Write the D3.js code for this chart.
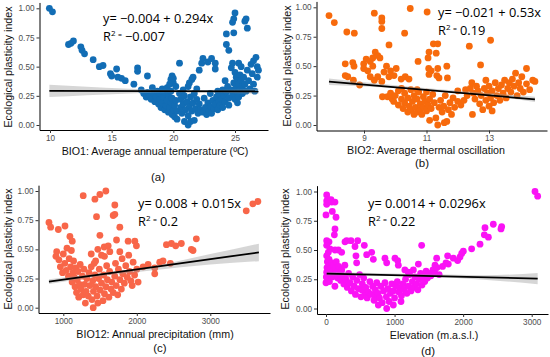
<!DOCTYPE html>
<html>
<head>
<meta charset="utf-8">
<script src="https://cdn.jsdelivr.net/npm/d3@7"></script>
<style>
  body { margin: 0; background: #fff; }
  svg { display: block; }
  .tick text { font-family: "Liberation Sans", Arial, sans-serif; font-size: 8.2px; fill: #4d4d4d; }
  .tick line { stroke: #333; }
  .domain { stroke: #000; }
  .axisTitle { font-family: "Liberation Sans", Arial, sans-serif; font-size: 10.7px; fill: #111; }
  .eq { font-family: "Open Sans", sans-serif; font-size: 12.8px; fill: #000; }
  .panelLabel { font-family: "Liberation Sans", Arial, sans-serif; font-size: 11.5px; fill: #111; }
</style>
</head>
<body>
<div id="chart"></div>
<script>
var svgWidth = 550;
var svgHeight = 357;

// ---- data ----
// (a) BIO1 average annual temperature vs plasticity index
var bio1Points = [
  [9.95,1.00],[10.2,0.97],[11.5,0.69],[11.7,0.70],[11.9,0.72],[12.5,0.67],[12.6,0.64],[12.8,0.61],[13.5,0.56],
  [14.0,0.50],[14.3,0.51],[14.9,0.44],[15.0,0.42],[15.4,0.48],[15.5,0.41],[15.8,0.40],[16.1,0.38],[16.8,0.35],
  [17.1,0.49],[17.1,0.46],[17.4,0.30],[17.9,0.42],[18.3,0.32],
  [17.6,0.27],[17.8,0.24],[17.9,0.28],[18.1,0.25],[18.2,0.22],[18.4,0.27],[18.5,0.20],[18.6,0.24],[18.7,0.29],
  [18.8,0.18],[18.9,0.22],[18.9,0.27],[19.0,0.15],[19.1,0.19],[19.1,0.31],[19.2,0.24],[19.3,0.13],[19.3,0.28],
  [19.4,0.17],[19.5,0.21],[19.5,0.32],[19.6,0.11],[19.6,0.26],[19.7,0.15],[19.8,0.19],[19.8,0.29],[19.9,0.09],
  [19.9,0.23],[20.0,0.13],[20.0,0.36],[20.1,0.17],[20.1,0.07],[20.2,0.21],[20.3,0.05],[20.3,0.12],[19.8,0.39],
  [19.9,0.42],[20.0,0.40],[19.7,0.35],[20.2,0.33],[20.5,0.53],[20.5,0.27],
  [20.6,0.22],[20.6,0.15],[20.7,0.10],[20.8,0.18],[20.8,0.30],[20.9,0.03],[20.9,0.25],[21.0,0.13],[21.1,0.20],
  [21.2,0.00],[21.2,0.33],[21.2,0.08],[21.3,0.16],[21.3,0.36],[21.4,0.24],[21.4,0.03],[21.5,0.12],[21.5,0.39],
  [21.6,0.41],[21.6,0.19],[21.7,0.04],[21.7,0.27],[21.8,0.14],[21.9,0.22],[21.9,0.31],[22.0,0.10],[22.1,0.47],
  [22.1,0.18],[22.2,0.13],[22.3,0.53],[22.4,0.57],[22.4,0.11],[22.5,0.23],
  [22.6,0.15],[22.7,0.09],[22.8,0.54],[22.8,0.19],[22.9,0.12],[23.0,0.27],[23.0,0.16],[23.1,0.57],[23.1,0.10],
  [23.2,0.21],[23.3,0.14],[23.4,0.53],[23.4,0.48],[23.4,0.18],[23.5,0.24],[23.6,0.13],[23.6,0.29],[23.7,0.20],
  [23.8,0.17],[23.8,0.26],[23.9,0.22],[24.0,0.30],[24.0,0.15],[24.1,0.25],[24.2,0.38],[24.2,0.20],[24.3,0.78],
  [24.3,0.69],[24.3,0.28],[24.4,0.33],[24.5,0.64],[24.5,0.23],[24.5,0.17],
  [24.7,0.49],[24.7,0.30],[24.8,0.88],[24.8,0.53],[24.8,0.26],[24.9,0.91],[24.9,0.79],[24.9,0.36],[25.0,0.96],
  [25.0,0.45],[25.0,0.22],[25.1,0.41],[25.1,0.32],[25.2,0.38],[25.2,0.27],[25.2,0.19],[25.3,0.53],[25.3,0.35],
  [25.3,0.24],[25.4,0.43],[25.4,0.30],[25.5,0.50],[25.5,0.38],[25.6,0.33],[25.6,0.27],[25.7,0.41],[25.8,0.89],
  [25.8,0.35],[25.9,0.91],[25.9,0.29],[26.0,0.83],[26.0,0.47],[26.1,0.38],[26.2,0.31],[26.3,0.52],[26.4,0.44],
  [26.5,0.55],[26.6,0.29],[26.7,0.58],[26.8,0.50],[26.8,0.41],[26.9,0.47],[26.5,0.35]
];
// fitted line ends and confidence band (x, lower, upper)
var bio1Fit = [[9.95,0.292],[26.9,0.288]];
var bio1Band = [[9.95,0.240,0.345],[13,0.256,0.328],[16,0.268,0.313],[19,0.278,0.303],[21.5,0.279,0.299],[24,0.276,0.302],[26.9,0.268,0.310]];

// (b) BIO2 average thermal oscillation
var bio2Points = [
  [7.88,0.93],[8.05,0.87],[8.45,0.79],[8.69,0.78],[9.33,0.95],[9.57,0.91],[9.57,0.88],[9.57,0.82],[10.48,0.99],
  [11.02,0.96],[10.30,0.78],[9.80,0.68],[11.22,0.69],[11.36,0.69],[11.31,0.61],[11.08,0.62],[11.05,0.57],
  [12.37,0.67],[13.05,0.72],
  [8.40,0.52],[8.64,0.53],[8.68,0.50],[8.40,0.42],[8.48,0.41],[8.66,0.38],[8.86,0.34],[8.99,0.52],[9.07,0.56],
  [9.20,0.54],[9.28,0.57],[9.36,0.62],[9.44,0.59],[9.51,0.57],[8.99,0.48],[9.12,0.46],[9.28,0.50],[9.20,0.41],
  [9.33,0.38],[9.44,0.41],[9.57,0.37],[9.64,0.45],[9.72,0.50],[9.85,0.46],[10.03,0.48],[9.80,0.41],[9.96,0.42],
  [9.59,0.24],[9.75,0.24],[9.90,0.22],[10.19,0.39],[10.32,0.41],[10.44,0.39],[10.73,0.54],[11.07,0.48],
  [11.15,0.46],[11.08,0.43],[11.36,0.48],[11.33,0.42],[11.40,0.40],[11.65,0.50],[11.67,0.40],
  [9.85,0.27],[9.95,0.20],[10.0,0.25],[10.1,0.17],[10.1,0.29],[10.2,0.22],[10.25,0.14],[10.3,0.19],[10.3,0.27],
  [10.4,0.11],[10.4,0.23],[10.45,0.16],[10.5,0.30],[10.5,0.13],[10.55,0.20],[10.6,0.09],[10.6,0.25],[10.65,0.15],
  [10.7,0.11],[10.7,0.22],[10.75,0.28],[10.8,0.13],[10.8,0.18],[10.85,0.09],[10.9,0.24],[10.9,0.15],[10.95,0.20],
  [11.0,0.12],[11.0,0.28],[11.05,0.17],[11.1,0.22],[11.1,0.04],[11.15,0.14],[11.2,0.26],[11.25,0.19],[11.3,0.06],
  [11.36,0.00],[11.4,0.15],[11.45,0.21],[11.5,0.11],[11.55,0.16],[11.57,0.02],[11.65,0.03],[11.6,0.25],[11.7,0.13],
  [11.75,0.19],[11.8,0.09],[11.85,0.23],[11.9,0.15],[12.0,0.20],[12.0,0.29],[12.1,0.17],[12.2,0.21],[12.25,0.30],
  [12.3,0.25],[12.47,0.09],[10.7,0.30],[10.2,0.31],
  [12.4,0.31],[12.45,0.36],[12.5,0.27],[12.55,0.22],[12.6,0.33],[12.65,0.29],[12.7,0.18],[12.73,0.51],[12.75,0.25],
  [12.8,0.13],[12.85,0.31],[12.9,0.21],[12.95,0.27],[13.0,0.16],[13.0,0.33],[13.05,0.23],[13.1,0.29],[13.15,0.19],
  [13.2,0.36],[13.25,0.25],[13.3,0.31],[13.35,0.21],[13.4,0.34],[13.45,0.27],[13.5,0.38],[13.55,0.23],[13.6,0.31],
  [13.65,0.36],[13.7,0.28],[13.75,0.39],[13.8,0.33],[13.85,0.44],[13.9,0.25],[13.95,0.36],[14.0,0.31],[14.05,0.41],
  [14.1,0.28],[14.2,0.48],[14.2,0.35],[14.3,0.30],[14.4,0.38],[14.47,0.37],[12.9,0.38],[13.1,0.12]
];
var bio2Fit = [[7.88,0.368],[14.47,0.218]];
var bio2Band = [[7.88,0.340,0.396],[9.5,0.320,0.350],[11.5,0.283,0.301],[13,0.250,0.272],[14.47,0.196,0.240]];

// (c) BIO12 annual precipitation (mm)
var bio12Points = [
  [805,0.73],[828,0.69],[932,0.67],[1023,0.70],[1090,0.61],[1122,0.57],[1271,0.96],[1430,0.93],[1498,0.97],
  [1579,1.00],[1452,0.78],[1679,0.79],[1701,0.80],[1701,0.88],[1769,0.69],[1498,0.62],[1557,0.52],[1611,0.53],
  [1633,0.48],[1724,0.58],[1769,0.48],[1882,0.57],[1973,0.57],[1995,0.53],[3489,0.83],[3579,0.89],[3647,0.91],
  [2403,0.54],[2471,0.55],[2529,0.53],[2606,0.55],[2810,0.59],[2742,0.50],[2765,0.49],[2244,0.34],[2244,0.29],
  [2312,0.39],[2357,0.40],[2457,0.38],[2086,0.35],[2154,0.37],[2018,0.22],[1937,0.19],
  [900,0.44],[910,0.48],[940,0.41],[960,0.35],[990,0.30],[1000,0.46],[1020,0.38],[1040,0.32],[1050,0.51],
  [1070,0.27],[1080,0.42],[1100,0.35],[1110,0.49],[1120,0.22],[1130,0.30],[1140,0.40],[1150,0.26],[1160,0.18],
  [1170,0.34],[1180,0.13],[1190,0.24],[1200,0.31],[1210,0.09],[1220,0.20],[1230,0.37],[1240,0.16],[1260,0.27],
  [1270,0.11],[1280,0.33],[1290,0.20],[1300,0.04],[1310,0.14],[1320,0.25],[1340,0.10],[1350,0.30],[1360,0.19],
  [1380,0.35],[1390,0.07],[1400,0.23],[1407,0.00],[1410,0.14],[1420,0.38],[1430,0.28],[1440,0.18],[1460,0.10],
  [1470,0.04],[1480,0.25],[1490,0.33],[1500,0.15],[1520,0.21],[1540,0.06],[1550,0.28],[1560,0.12],[1580,0.18],
  [1590,0.36],[1600,0.24],[1620,0.09],[1630,0.31],[1650,0.16],[1660,0.22],[1680,0.13],[1700,0.27],[1710,0.38],
  [1720,0.19],[1740,0.11],[1750,0.33],[1770,0.24],[1790,0.16],[1800,0.42],[1810,0.29],[1830,0.21],[1850,0.36],
  [1870,0.26],[1890,0.45],[1900,0.31],[1920,0.23],[1950,0.39],[1970,0.28],[2000,0.33],[1440,0.40],[1470,0.50],
  [1520,0.45],[1560,0.44],[1380,0.46]
];
var bio12Fit = [[805,0.223],[3661,0.474]];
var bio12Band = [[805,0.203,0.243],[1450,0.265,0.291],[2200,0.318,0.352],[3000,0.370,0.460],[3661,0.399,0.549]];

// (d) Elevation (m.a.s.l.)
var elevPoints = [
  [10,0.97],[10,0.92],[10,0.89],[34,0.93],[73,0.93],[83,0.91],[131,0.91],[92,0.83],[146,0.78],[0,0.80],
  [131,0.68],[122,0.63],[10,0.58],[44,0.57],[10,0.54],[58,0.51],[34,0.48],[10,0.45],[277,0.57],[301,0.58],
  [365,0.58],[423,0.53],[462,0.58],[131,0.50],[180,0.50],[228,0.48],[559,0.54],[593,0.46],[666,0.48],[690,0.42],
  [437,0.45],[447,0.39],[860,0.43],[885,0.39],[1006,0.43],[1045,0.41],[1395,0.54],[1274,0.33],[1347,0.38],
  [1614,0.43],[1590,0.37],[1774,0.45],[1784,0.38],[1857,0.43],[1920,0.41],[1954,0.44],[1979,0.47],[2003,0.49],
  [2124,0.51],[2246,0.55],[2309,0.63],[2319,0.69],[2368,0.61],[2440,0.72],[2562,0.70],[2552,0.68],[3048,1.00],
  [3087,0.96],[763,0.03],[885,0.00],[982,0.03],[1094,0.06],[715,0.11],[569,0.13],[520,0.16],
  [0,0.22],[5,0.27],[10,0.31],[15,0.35],[20,0.40],[25,0.25],[30,0.29],[35,0.33],[40,0.38],[45,0.42],[50,0.23],
  [55,0.36],[60,0.30],[70,0.34],[80,0.39],[90,0.27],[100,0.32],[110,0.37],[120,0.29],[130,0.19],[140,0.34],
  [150,0.40],[160,0.31],[170,0.26],[185,0.36],[200,0.30],[215,0.24],[230,0.33],[245,0.28],[260,0.21],[275,0.37],
  [290,0.25],[310,0.18],[330,0.30],[350,0.22],[370,0.15],[390,0.27],[410,0.19],[430,0.12],[450,0.24],[470,0.17],
  [490,0.29],[510,0.10],[530,0.21],[550,0.26],[580,0.18],[600,0.09],[620,0.14],[640,0.23],[660,0.12],[680,0.19],
  [700,0.07],[720,0.16],[740,0.22],[760,0.13],[780,0.09],[800,0.19],[820,0.05],[840,0.15],[860,0.22],[880,0.10],
  [900,0.17],[920,0.06],[940,0.13],[960,0.21],[980,0.15],[1000,0.09],[1020,0.19],[1040,0.23],[1060,0.14],
  [1080,0.18],[1100,0.11],[1120,0.21],[1140,0.16],[1160,0.25],[1180,0.13],[1200,0.19],[1220,0.29],[1240,0.15],
  [1260,0.23],[1280,0.18],[1300,0.27],[1320,0.21],[1340,0.16],[1360,0.25],[1380,0.30],[1400,0.20],[1420,0.27],
  [1440,0.23],[1460,0.32],[1480,0.26],[1500,0.30],[1530,0.28],[1560,0.33],[1590,0.30],[1620,0.35],[1650,0.29],
  [1700,0.36],[1750,0.39],[1055,0.37],[1150,0.33],[1200,0.31]
];
var elevFit = [[10,0.298],[3087,0.256]];
var elevBand = [[10,0.281,0.315],[700,0.283,0.303],[1500,0.272,0.292],[2300,0.246,0.284],[3087,0.208,0.304]];

var yTicks = [0, 0.25, 0.5, 0.75, 1];

// panel layout: pixel box plus two reference ticks to pin the x and y scales
var panels = [
  { points: bio1Points, fit: bio1Fit, band: bio1Band, color: "#126db5",
    left: 39.5, right: 268, bottom: 130, xRef: [[10, 50], [25, 235]], yRef: [[0, 125], [1, 8.3]],
    xTicks: [10, 15, 20, 25], xFmt: d3.format("d"),
    xTitle: "BIO1: Average annual temperature (\u00baC)", xTitleX: 155, xTitleY: 155,
    yTitleX: 12, yTitleY: 67, label: "(a)", labelX: 158, labelY: 181,
    eq: ["y= \u22120.004 + 0.294x", "\u22120.007"], eqX: 103, eqY: 23 },
  { points: bio2Points, fit: bio2Fit, band: bio2Band, color: "#f76a0c",
    left: 316.5, right: 547, bottom: 130.5, xRef: [[9, 364], [13, 489]], yRef: [[0, 125], [1, 7.3]],
    xTicks: [9, 11, 13], xFmt: d3.format("d"),
    xTitle: "BIO2: Average thermal oscillation", xTitleX: 426, xTitleY: 153.5,
    yTitleX: 291, yTitleY: 66, label: "(b)", labelX: 422, labelY: 167,
    eq: ["y= \u22120.021 + 0.53x", "0.19"], eqX: 438, eqY: 17 },
  { points: bio12Points, fit: bio12Fit, band: bio12Band, color: "#f86649",
    left: 38.5, right: 270, bottom: 313, xRef: [[1000, 63.3], [3000, 210.3]], yRef: [[0, 307.7], [1, 191]],
    xTicks: [1000, 2000, 3000], xFmt: d3.format("d"),
    xTitle: "BIO12: Annual precipitation (mm)", xTitleX: 155, xTitleY: 338,
    yTitleX: 12, yTitleY: 249, label: "(c)", labelX: 160, labelY: 352,
    eq: ["y= 0.008 + 0.015x", "0.2"], eqX: 138, eqY: 208 },
  { points: elevPoints, fit: elevFit, band: elevBand, color: "#fa12f5",
    left: 317, right: 548, bottom: 314, xRef: [[0, 326], [3000, 531.7]], yRef: [[0, 308.5], [1, 191.5]],
    xTicks: [0, 1000, 2000, 3000], xFmt: d3.format("d"),
    xTitle: "Elevation (m.a.s.l.)", xTitleX: 434, xTitleY: 339,
    yTitleX: 289, yTitleY: 249, label: "(d)", labelX: 428, labelY: 355,
    eq: ["y= 0.0014 + 0.0296x", "0.22"], eqX: 368, eqY: 208 }
];

var svg = d3.select("#chart")
  .append("svg")
  .attr("width", svgWidth)
  .attr("height", svgHeight);

function pinnedScale(ref, lo, hi) {
  var s = d3.scaleLinear().domain([ref[0][0], ref[1][0]]).range([ref[0][1], ref[1][1]]);
  return d3.scaleLinear().domain([s.invert(lo), s.invert(hi)]).range([lo, hi]);
}

panels.forEach(function (p) {
  var x = pinnedScale(p.xRef, p.left, p.right);
  var top = p.yRef[1][1] - 0.05 * (p.yRef[0][1] - p.yRef[1][1]);
  var y = pinnedScale(p.yRef, p.bottom, top);

  var g = svg.append("g");

  // points
  g.selectAll("circle")
    .data(p.points)
    .enter()
    .append("circle")
    .attr("cx", function (d) { return x(d[0]); })
    .attr("cy", function (d) { return y(d[1]); })
    .attr("r", 3.4)
    .attr("fill", p.color);

  // confidence band
  var area = d3.area()
    .x(function (d) { return x(d[0]); })
    .y0(function (d) { return y(d[1]); })
    .y1(function (d) { return y(d[2]); })
    .curve(d3.curveMonotoneX);
  g.append("path")
    .datum(p.band)
    .attr("d", area)
    .attr("fill", "#999")
    .attr("fill-opacity", 0.4);

  // regression line
  var line = d3.line()
    .x(function (d) { return x(d[0]); })
    .y(function (d) { return y(d[1]); });
  g.append("path")
    .datum(p.fit)
    .attr("d", line)
    .attr("fill", "none")
    .attr("stroke", "#000")
    .attr("stroke-width", 1.8);

  // axes
  g.append("g")
    .attr("transform", "translate(0," + p.bottom + ")")
    .call(d3.axisBottom(x).tickValues(p.xTicks).tickFormat(p.xFmt).tickSize(3).tickSizeOuter(0).tickPadding(2));
  g.append("g")
    .attr("transform", "translate(" + p.left + ",0)")
    .call(d3.axisLeft(y).tickValues(yTicks).tickFormat(d3.format(".2f")).tickSize(3).tickSizeOuter(0).tickPadding(2));

  g.selectAll(".tick text").attr("font-family", null).attr("font-size", null);

  // titles
  g.append("text")
    .attr("class", "axisTitle")
    .attr("x", p.xTitleX)
    .attr("y", p.xTitleY)
    .attr("text-anchor", "middle")
    .text(p.xTitle);
  g.append("text")
    .attr("class", "axisTitle")
    .attr("transform", "translate(" + p.yTitleX + "," + p.yTitleY + ") rotate(-90)")
    .attr("text-anchor", "middle")
    .text("Ecological plasticity index");
  g.append("text")
    .attr("class", "panelLabel")
    .attr("x", p.labelX)
    .attr("y", p.labelY)
    .attr("text-anchor", "middle")
    .text(p.label);

  // equation
  g.append("text")
    .attr("class", "eq")
    .attr("x", p.eqX)
    .attr("y", p.eqY)
    .text(p.eq[0]);
  var r2 = g.append("text")
    .attr("class", "eq")
    .attr("x", p.eqX)
    .attr("y", p.eqY + 18);
  r2.append("tspan").text("R");
  r2.append("tspan").attr("dy", -5).attr("font-size", "8px").text("2");
  r2.append("tspan").attr("dx", 2.5).attr("dy", 1).attr("font-size", "7px").text("=");
  r2.append("tspan").attr("dx", 3).attr("dy", 4).text(p.eq[1]);
});
</script>
</body>
</html>
